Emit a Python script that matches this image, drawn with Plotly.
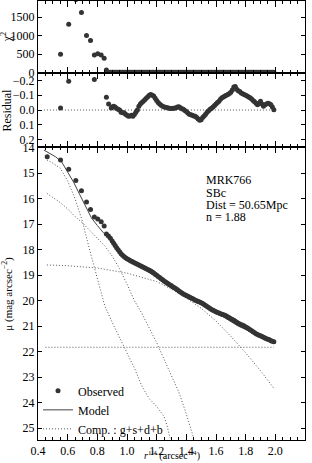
import plotly.graph_objects as go
from plotly.subplots import make_subplots

# ---------------- data ----------------
# inner (sparse) observed points
x_in = [0.462, 0.552, 0.607, 0.655, 0.693, 0.727, 0.754, 0.780, 0.803, 0.826, 0.846, 0.861, 0.875, 0.888]
mu_in = [14.35, 14.48, 14.84, 15.28, 15.69, 16.13, 16.42, 16.72, 16.80, 16.90, 17.07, 17.38, 17.46, 17.55]
chi_in = [None, 500, 1310, 1975, 1624, 1005, 871, 476, 511, 476, 387, 73, 15, 12]

# outer (dense) observed points
x_out = [0.90, 0.91, 0.92, 0.93, 0.94, 0.95, 0.96, 0.97, 0.98, 0.99,
         1.00, 1.01, 1.02, 1.03, 1.04, 1.05, 1.06, 1.07, 1.08, 1.09,
         1.10, 1.11, 1.12, 1.13, 1.14, 1.15, 1.16, 1.17, 1.18, 1.19,
         1.20, 1.21, 1.22, 1.23, 1.24, 1.25, 1.26, 1.27, 1.28, 1.29,
         1.30, 1.31, 1.32, 1.33, 1.34, 1.35, 1.36, 1.37, 1.38, 1.39,
         1.40, 1.41, 1.42, 1.43, 1.44, 1.45, 1.46, 1.47, 1.48, 1.49,
         1.50, 1.51, 1.52, 1.53, 1.54, 1.55, 1.56, 1.57, 1.58, 1.59,
         1.60, 1.61, 1.62, 1.63, 1.64, 1.65, 1.66, 1.67, 1.68, 1.69,
         1.70, 1.71, 1.72, 1.73, 1.74, 1.75, 1.76, 1.77, 1.78, 1.79,
         1.80, 1.81, 1.82, 1.83, 1.84, 1.85, 1.86, 1.87, 1.88, 1.89,
         1.90, 1.91, 1.92, 1.93, 1.94, 1.95, 1.96, 1.97, 1.98, 1.99]
mu_out = [17.66, 17.75, 17.84, 17.92, 18.00, 18.08, 18.16, 18.22, 18.27, 18.32,
          18.36, 18.39, 18.42, 18.45, 18.48, 18.51, 18.54, 18.57, 18.60, 18.63,
          18.66, 18.69, 18.72, 18.75, 18.78, 18.81, 18.84, 18.88, 18.92, 18.96,
          19.00, 19.05, 19.09, 19.14, 19.18, 19.23, 19.27, 19.31, 19.35, 19.39,
          19.42, 19.46, 19.49, 19.53, 19.57, 19.62, 19.66, 19.70, 19.74, 19.77,
          19.80, 19.83, 19.86, 19.89, 19.92, 19.95, 19.98, 20.00, 20.03, 20.05,
          20.08, 20.11, 20.15, 20.19, 20.23, 20.27, 20.31, 20.35, 20.38, 20.41,
          20.44, 20.47, 20.49, 20.51, 20.53, 20.55, 20.57, 20.60, 20.64, 20.67,
          20.71, 20.74, 20.77, 20.81, 20.85, 20.89, 20.92, 20.95, 20.97, 21.00,
          21.03, 21.06, 21.10, 21.14, 21.18, 21.22, 21.26, 21.30, 21.33, 21.36,
          21.38, 21.41, 21.44, 21.47, 21.50, 21.52, 21.54, 21.57, 21.59, 21.61]
chi_out = [10, 10, 10, 10, 10, 10, 10, 10, 10, 10,
           10, 10, 10, 10, 10, 10, 10, 10, 10, 10,
           10, 10, 10, 10, 10, 10, 10, 10, 10, 10,
           10, 10, 10, 10, 10, 10, 10, 10, 10, 10,
           10, 10, 10, 10, 10, 10, 10, 10, 10, 10,
           10, 10, 10, 10, 10, 10, 10, 10, 10, 10,
           10, 10, 10, 10, 10, 10, 10, 10, 10, 10,
           10, 10, 10, 10, 10, 10, 10, 10, 10, 10,
           10, 10, 10, 10, 10, 10, 10, 10, 10, 10,
           10, 10, 10, 10, 10, 10, 10, 10, 10, 10,
           10, 10, 10, 10, 10, 10, 10, 10, 10, 10]
res_out = [-0.020, -0.025, -0.020, -0.010, -0.005, 0.000, 0.015, 0.018, 0.018, 0.028,
           0.035, 0.043, 0.040, 0.035, 0.042, 0.030, 0.015, 0.000, -0.025, -0.040,
           -0.050, -0.060, -0.070, -0.080, -0.090, -0.100, -0.105, -0.100, -0.095, -0.080,
           -0.065, -0.050, -0.040, -0.032, -0.025, -0.020, -0.018, -0.015, -0.013, -0.010,
           -0.010, -0.012, -0.012, -0.016, -0.020, -0.022, -0.015, -0.008, -0.005, 0.003,
           0.010, 0.020, 0.028, 0.032, 0.035, 0.040, 0.042, 0.050, 0.060, 0.070,
           0.065, 0.050, 0.040, 0.028, 0.015, 0.005, -0.005, -0.012, -0.020, -0.030,
           -0.040, -0.050, -0.060, -0.072, -0.082, -0.088, -0.095, -0.100, -0.105, -0.112,
           -0.120, -0.135, -0.155, -0.158, -0.140, -0.130, -0.125, -0.115, -0.110, -0.105,
           -0.100, -0.095, -0.088, -0.082, -0.075, -0.065, -0.055, -0.045, -0.035, -0.045,
           -0.060, -0.040, -0.025, -0.035, -0.040, -0.045, -0.042, -0.035, -0.020, -0.002]

# visible inner residuals
x_res_in = [0.552, 0.607, 0.780, 0.861, 0.876, 0.894]
res_in = [-0.014, -0.195, -0.206, -0.086, -0.041, -0.014]

x_zero = [0.44, 1.99]
zero = [0.0, 0.0]

# model
x_model = [0.44, 0.48, 0.52, 0.56, 0.60, 0.64, 0.68, 0.72, 0.76, 0.80, 0.84, 0.88, 0.92, 0.96, 1.00,
           1.05, 1.10, 1.15, 1.20, 1.25, 1.30, 1.35, 1.40, 1.45, 1.50, 1.55, 1.60, 1.65, 1.70, 1.75,
           1.80, 1.85, 1.90, 1.95, 2.00]
mu_model = [14.09, 14.22, 14.36, 14.56, 14.95, 15.35, 15.82, 16.30, 16.75, 17.05, 17.33, 17.55, 17.84,
            18.13, 18.33, 18.50, 18.70, 18.90, 19.07, 19.23, 19.43, 19.64, 19.80, 19.92, 20.03, 20.27,
            20.48, 20.64, 20.83, 21.00, 21.13, 21.28, 21.42, 21.55, 21.63]

# components: g, s, d, b
x_g = [0.46, 0.50, 0.55, 0.60, 0.65, 0.70, 0.75, 0.80, 0.85, 0.90, 0.95, 1.00, 1.05, 1.10, 1.15,
       1.20, 1.25, 1.27, 1.29]
mu_g = [14.48, 14.60, 14.80, 15.30, 16.00, 16.90, 18.05, 19.10, 20.20, 20.85, 21.45, 22.05, 22.65,
        23.35, 23.85, 24.15, 24.55, 24.90, 25.40]
x_s = [0.46, 0.55, 0.60, 0.65, 0.70, 0.75, 0.80, 0.85, 0.90, 0.95, 1.00, 1.05, 1.10, 1.15, 1.20,
       1.25, 1.30, 1.35, 1.40, 1.45]
mu_s = [15.79, 16.15, 16.40, 16.70, 16.95, 17.25, 17.55, 17.85, 18.25, 18.75, 19.35, 20.00, 20.50,
        21.05, 21.65, 22.30, 22.95, 23.60, 24.45, 25.40]
x_d = [0.46, 0.60, 0.80, 1.00, 1.20, 1.30, 1.40, 1.50, 1.60, 1.70, 1.80, 1.90, 1.99]
mu_d = [18.60, 18.63, 18.72, 18.92, 19.25, 19.55, 19.90, 20.30, 20.80, 21.40, 22.05, 22.75, 23.44]
x_b = [0.45, 1.99]
mu_b = [21.83, 21.83]

x_ticks = [0.4, 0.6, 0.8, 1.0, 1.2, 1.4, 1.6, 1.8, 2.0, 2.2]
x_ticktext = ["0.4", "0.6", "0.8", "1.0", "1.2", "1.4", "1.6", "1.8", "2.0", "2.2"]
chi_ticks = [0, 500, 1000, 1500]
res_ticks = [-0.2, -0.1, 0.0, 0.1, 0.2]
mu_ticks = [14, 15, 16, 17, 18, 19, 20, 21, 22, 23, 24, 25]

labels = ["MRK766", "SBc", "Dist = 50.65Mpc", "n = 1.88"]

# ---------------- figure ----------------
FONT = "Liberation Serif"
DARK = "#333333"
COMP = "#555555"
DOT = "1px,2px"

fig = make_subplots(rows=3, cols=1, shared_xaxes=False, vertical_spacing=0,
                    row_heights=[0.164, 0.1686, 0.6674])

fig.add_trace(go.Scatter(x=x_in + x_out, y=chi_in + chi_out, mode="markers",
                         marker=dict(size=5, color=DARK), showlegend=False), row=1, col=1)
fig.add_trace(go.Scatter(x=x_zero, y=zero, mode="lines",
                         line=dict(color=COMP, width=1, dash=DOT), showlegend=False), row=2, col=1)
fig.add_trace(go.Scatter(x=x_res_in + x_out, y=res_in + res_out, mode="markers",
                         marker=dict(size=5, color=DARK), showlegend=False), row=2, col=1)

for xs, ys in [(x_g, mu_g), (x_s, mu_s), (x_d, mu_d)]:
    fig.add_trace(go.Scatter(x=xs, y=ys, mode="lines", line=dict(color=COMP, width=1, dash=DOT),
                             showlegend=False), row=3, col=1)
fig.add_trace(go.Scatter(x=x_b, y=mu_b, mode="lines", line=dict(color=COMP, width=1, dash=DOT),
                         name="Comp. : g+s+d+b", showlegend=True), row=3, col=1)
fig.add_trace(go.Scatter(x=x_model, y=mu_model, mode="lines", line=dict(color="#444444", width=1),
                         name="Model"), row=3, col=1)
fig.add_trace(go.Scatter(x=x_in + x_out, y=mu_in + mu_out, mode="markers", marker=dict(size=5, color=DARK),
                         name="Observed"), row=3, col=1)

tickfont = dict(family=FONT, size=12, color="black")
ax_common = dict(range=[0.4, 2.2], tickvals=x_ticks, ticktext=x_ticktext, ticks="inside", ticklen=6,
                 tickcolor="black", showline=True, linecolor="black", linewidth=1, mirror="ticks",
                 showgrid=False, zeroline=False, automargin=False, tickfont=tickfont,
                 minor=dict(dtick=0.05, tick0=0.4, ticks="inside", ticklen=3, tickcolor="black", showgrid=False))
fig.update_xaxes(**ax_common)
fig.update_xaxes(showticklabels=False, row=1, col=1)
fig.update_xaxes(showticklabels=False, row=2, col=1)

y_common = dict(ticks="inside", ticklen=4, tickcolor="black", showline=True, linecolor="black",
                linewidth=1, mirror="ticks", showgrid=False, zeroline=False, automargin=False,
                tickfont=tickfont)
fig.update_yaxes(**y_common)
fig.update_yaxes(range=[-8, 1935], tickvals=chi_ticks, row=1, col=1)
fig.update_yaxes(range=[0.25, -0.25], tickvals=res_ticks, tickformat=".1f", row=2, col=1)
fig.update_yaxes(range=[25.47, 13.97], tickvals=mu_ticks, row=3, col=1)

# text annotations
ys = [15.27, 15.76, 16.23, 16.70]
for t, yv in zip(labels, ys):
    fig.add_annotation(x=1.528, y=yv, xref="x3", yref="y3", text=t, showarrow=False, borderpad=0,
                       xanchor="left", yanchor="middle", font=dict(family=FONT, size=12, color="black"))

fig.add_annotation(x=-0.115, y=0.918, xref="paper", yref="paper", text="χ<sup>2</sup>", textangle=-90,
                   showarrow=False, xanchor="center", yanchor="middle", font=dict(family=FONT, size=12, color="black"))
fig.add_annotation(x=-0.115, y=0.751, xref="paper", yref="paper", text="Residual", textangle=-90,
                   showarrow=False, xanchor="center", yanchor="middle", font=dict(family=FONT, size=12, color="black"))
fig.add_annotation(x=-0.115, y=0.334, xref="paper", yref="paper", text="μ (mag arcsec<sup>−2</sup>)", textangle=-90,
                   showarrow=False, xanchor="center", yanchor="middle", font=dict(family=FONT, size=11, color="black"))
fig.add_annotation(x=0.5, y=-0.0524, xref="paper", yref="paper", borderpad=0,
                   text="<i>r</i><sup>1/4</sup> (arcsec<sup>1/4</sup>)",
                   showarrow=False, xanchor="center", yanchor="bottom", font=dict(family=FONT, size=10, color="black"))

fig.update_layout(
    template="none",
    width=312, height=463,
    margin=dict(l=38, r=7, t=1, b=23, autoexpand=False),
    paper_bgcolor="white", plot_bgcolor="white",
    font=dict(family=FONT, size=12, color="black"),
    legend=dict(x=0.0, y=0.145, xanchor="left", yanchor="top", traceorder="reversed",
                bgcolor="rgba(0,0,0,0)", font=dict(family=FONT, size=12, color="black"),
                itemwidth=30, tracegroupgap=0),
)

fig.write_html("out.html", include_plotlyjs=True, full_html=True,
               config={"displayModeBar": False, "staticPlot": True},
               post_script="document.body.style.margin='0';document.body.style.padding='0';")
